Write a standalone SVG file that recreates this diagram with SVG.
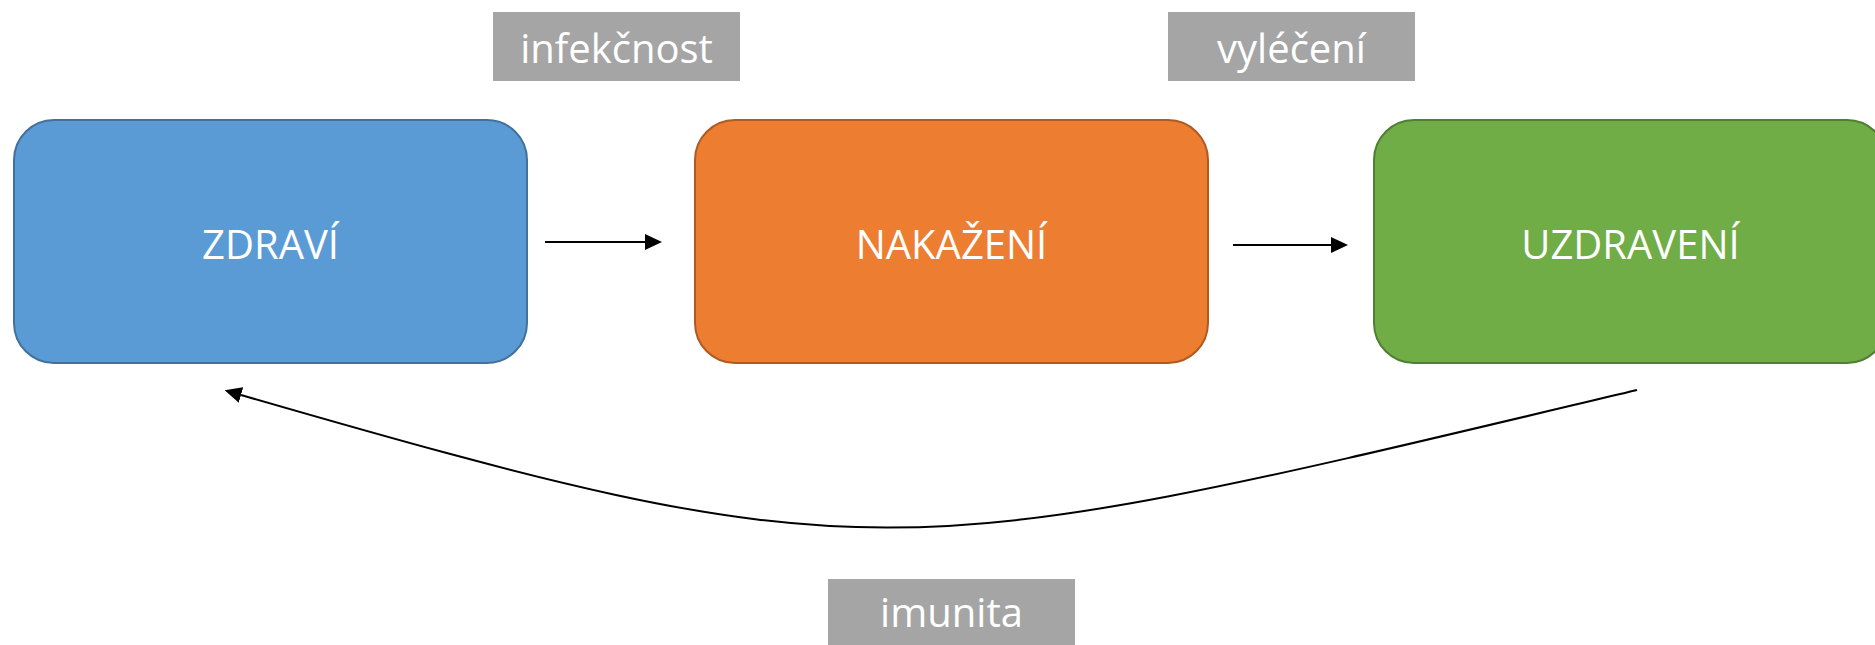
<svg xmlns="http://www.w3.org/2000/svg" width="1875" height="645" viewBox="0 0 1875 645">
<style>
.node-text{font-family:"Open Sans","Liberation Sans",sans-serif;font-size:40px;fill:#ffffff;text-anchor:middle}
.lbl-box{fill:#a5a5a5}
.lbl-text{font-family:"Open Sans","Liberation Sans",sans-serif;font-size:40px;fill:#ffffff;text-anchor:middle}
.conn{fill:none;stroke:#000000;stroke-width:2}
</style>
<defs>
<marker id="arrow" markerUnits="userSpaceOnUse" markerWidth="17" markerHeight="16" viewBox="0 0 17 16" refX="0" refY="8" orient="auto">
<path d="M0,0 L17,8 L0,16 z" fill="#000000"/>
</marker>
</defs>
<rect width="1875" height="645" fill="#ffffff"/>
<g id="zdravi">
<rect x="14" y="120" width="513" height="243" rx="40" ry="40" fill="#5b9bd5" stroke="#41719c" stroke-width="2"/>
<text class="node-text" x="270.5" y="259">ZDRAVÍ</text>
</g>
<g id="nakazeni">
<rect x="695" y="120" width="513" height="243" rx="40" ry="40" fill="#ed7d31" stroke="#ae5a21" stroke-width="2"/>
<text class="node-text" x="951.5" y="259">NAKAŽENÍ</text>
</g>
<g id="uzdraveni">
<rect x="1374" y="120" width="513" height="243" rx="40" ry="40" fill="#70ad47" stroke="#507e32" stroke-width="2"/>
<text class="node-text" x="1630.5" y="259">UZDRAVENÍ</text>
</g>
<g id="label-infekcnost">
<rect class="lbl-box" x="493" y="12" width="247" height="69"/>
<text class="lbl-text" x="616.5" y="63">infekčnost</text>
</g>
<g id="label-vyleceni">
<rect class="lbl-box" x="1168" y="12" width="247" height="69"/>
<text class="lbl-text" x="1291.5" y="63">vyléčení</text>
</g>
<g id="label-imunita">
<rect class="lbl-box" x="828" y="579" width="247" height="66"/>
<text class="lbl-text" x="951.5" y="627">imunita</text>
</g>
<g id="connectors">
<path class="conn" d="M545,242 L645,242" marker-end="url(#arrow)"/>
<path class="conn" d="M1233,245 L1331,245" marker-end="url(#arrow)"/>
<path class="conn" d="M1637,390 C900,565 880,580 241,395" stroke-width="1.8" marker-end="url(#arrow)"/>
</g>
</svg>
